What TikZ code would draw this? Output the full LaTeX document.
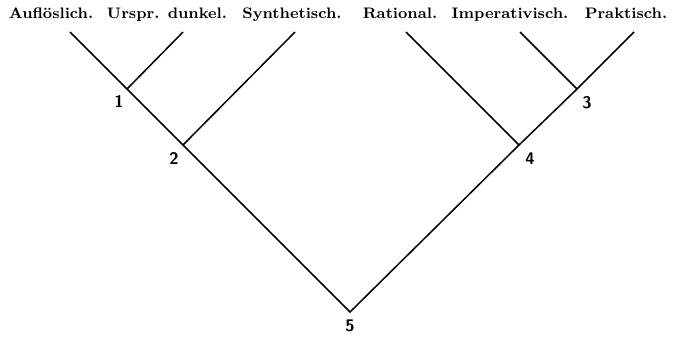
\documentclass[tikz,border=0pt]{standalone}
\tikzset{
  term/.style={font=\fontsize{7.6}{9}\selectfont\bfseries, inner sep=0pt, anchor=base},
  num/.style={font=\fontsize{8.4}{9}\selectfont\sffamily\bfseries, inner sep=0pt},
  branch/.style={line width=0.75pt}
}
\begin{document}
\begin{tikzpicture}[x=0.5pt, y=-0.5pt]
\useasboundingbox (0,0) rectangle (673,339);
% terms along the top
\node[term] (aufl) at (51,18) {Auflöslich.};
\node[term] (urspr) at (167,18) {Urspr. dunkel.};
\node[term] (synth) at (292,18) {Synthetisch.};
\node[term] (rat) at (400,18) {Rational.};
\node[term] (imp) at (510,18) {Imperativisch.};
\node[term] (prakt) at (626,18) {Praktisch.};
% free ends of the branches
\coordinate (t1) at (70,32);
\coordinate (t2) at (183,32);
\coordinate (t3) at (295,32);
\coordinate (t4) at (406,32);
\coordinate (t5) at (520,32);
\coordinate (t6) at (634,32);
% junctions
\coordinate (j1) at (127,89);
\coordinate (j2) at (183,145);
\coordinate (j3) at (577,89);
\coordinate (j4) at (519,145);
\coordinate (j5) at (350,312);
\draw[branch] (t1) -- (j1) -- (j2) -- (j5) -- (j4) -- (j3) -- (t6);
\draw[branch] (t2) -- (j1);
\draw[branch] (t3) -- (j2);
\draw[branch] (t4) -- (j4);
\draw[branch] (t5) -- (j3);
% junction numbers
\node[num] (n1) at (119,101) {1};
\node[num] (n2) at (174,158) {2};
\node[num] (n3) at (587,103) {3};
\node[num] (n4) at (530,159) {4};
\node[num] (n5) at (350,326) {5};
\end{tikzpicture}
\end{document}
